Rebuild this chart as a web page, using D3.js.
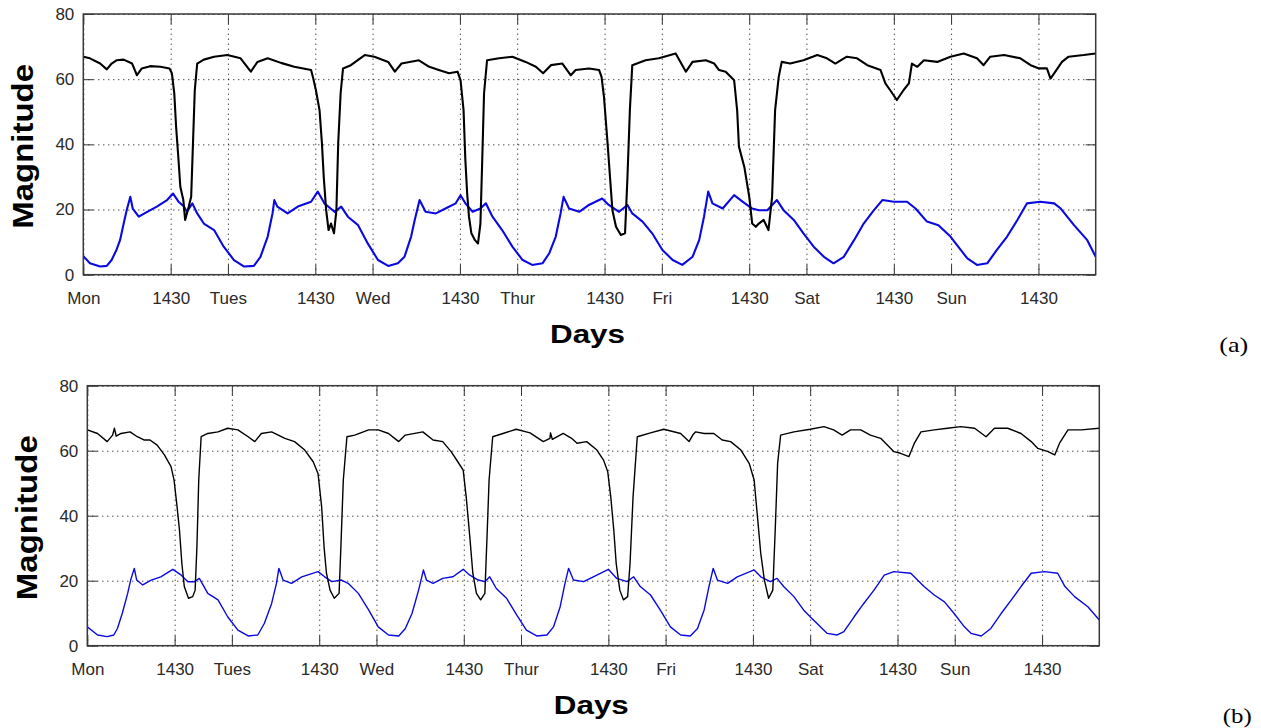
<!DOCTYPE html>
<html>
<head>
<meta charset="utf-8">
<script src="https://cdn.jsdelivr.net/npm/d3@7"></script>
<style>
body { margin: 0; background: #fff; }
svg text { font-family: "Liberation Sans", Arial, sans-serif; }
</style>
</head>
<body>
<script>

const tickHours = [0, 14.5, 24, 38.5, 48, 62.5, 72, 86.5, 96, 110.5, 120, 134.5, 144, 158.5];
const tickLabels = ["Mon", "1430", "Tues", "1430", "Wed", "1430", "Thur", "1430", "Fri", "1430", "Sat", "1430", "Sun", "1430"];
const yTicks = [0, 20, 40, 60, 80];

// [hour, magnitude]
const aBlack = [[0,66.9],[1.1,66.4],[2.8,64.8],[3.9,63],[4.7,64.8],[5.5,65.8],[6.7,66],[8.1,64.8],[8.9,61.2],[9.7,63.3],[11.1,64],[12.8,63.8],[14.3,63.3],[14.7,61.8],[15.1,55.6],[15.4,45.4],[15.8,35.2],[16.1,27],[16.6,22.9],[16.9,16.8],[17.5,20.9],[17.9,23.9],[18.2,40.3],[18.5,56.6],[18.9,64.8],[20,66],[21.7,66.9],[23.9,67.4],[26.1,66.4],[27.8,62.3],[28.9,65.3],[30.6,66.4],[32.8,65],[35,63.8],[37.8,62.8],[38.1,60.7],[38.6,56.6],[39.2,50.5],[39.6,40.3],[39.9,30],[40.3,19.8],[40.7,13.7],[41.1,15.7],[41.6,12.7],[42,19.8],[42.3,40.3],[42.7,55.6],[43.1,63.3],[44.4,64.3],[46.7,67.4],[48.3,66.9],[50.6,65.3],[51.7,62.3],[52.8,64.8],[55.7,65.8],[57.4,63.8],[59,62.8],[60.7,61.8],[62.1,62.3],[62.6,59.7],[63.1,50.5],[63.4,35.2],[63.7,24.9],[64,17.8],[64.4,12.7],[65,10.6],[65.5,9.6],[65.9,15.7],[66.2,35.2],[66.5,55.6],[67,65.8],[69,66.4],[71.2,66.9],[73.4,65.3],[75.1,63.8],[76.3,61.8],[77.6,64.3],[79.5,64.8],[80.9,61.2],[81.7,62.8],[83.9,63.3],[85.6,62.8],[86,60.7],[86.4,54.6],[87,40.3],[87.4,30],[87.8,19.8],[88.4,14.7],[89.2,12.2],[89.9,12.7],[90.3,30],[90.7,50.5],[91.1,64.3],[93.3,65.8],[95.5,66.4],[98.3,67.9],[100,62.3],[101.1,65.3],[103.3,65.8],[104.7,64.8],[105.5,62.8],[106.6,62.3],[108,59.7],[108.5,50.5],[108.8,39.3],[109.7,33],[110.5,24],[111,15.7],[111.6,14.7],[112.1,15.7],[112.9,16.8],[113.7,13.7],[114.3,23.9],[114.8,50.5],[115.4,60.7],[115.9,65.3],[117.3,64.8],[119.5,65.8],[121.8,67.4],[123.4,66.4],[124.8,64.8],[126.7,66.9],[128.4,66.4],[130.1,64.3],[132.3,62.8],[133.1,58.7],[133.9,56.6],[135,53.6],[136.1,56.6],[137,58.7],[137.5,64.8],[138.4,63.8],[139.5,65.8],[141.7,65.3],[143.9,66.9],[146.1,67.9],[148.3,66.4],[149.4,64.3],[150.5,66.9],[152.8,67.4],[155.5,66.4],[157.2,64.3],[158.6,63.3],[159.9,63.3],[160.5,60.2],[161.3,62.3],[162.4,65.3],[163.5,66.9],[166,67.4],[168,67.9]];

const aBlue = [[0,5.7],[1.1,3.5],[2.8,2.5],[3.9,2.7],[4.7,4.5],[5.5,7.6],[6.1,10.6],[6.7,15.7],[7.2,19.8],[7.8,23.9],[8.2,20.3],[9.2,17.8],[10.6,19.3],[12.2,20.9],[13.9,22.9],[14.9,24.9],[15.8,22.4],[16.7,20.9],[17.2,19.3],[18.1,21.9],[18.9,18.8],[20,15.7],[21.7,13.7],[23.3,8.6],[25,4.5],[26.7,2.5],[28.3,2.7],[29.4,5.5],[30.6,11.7],[31.4,18.8],[31.7,22.9],[32.2,20.9],[33.9,18.8],[35.6,20.9],[37.8,22.4],[38.9,25.5],[40,21.9],[41.7,19.3],[42.8,20.9],[43.9,17.8],[45.6,15.2],[47.2,9.6],[48.9,4.5],[50.6,2.7],[52.2,3.5],[53.3,5.5],[54.4,11.7],[55,16.8],[55.8,22.9],[56.8,19.3],[58.5,18.8],[60.1,20.3],[61.8,21.9],[62.6,24.4],[63.4,21.9],[64.6,19.3],[65.9,20.3],[66.8,21.9],[67.9,17.8],[69.5,13.7],[71.2,8.6],[72.9,4.5],[74.5,3],[76.2,3.5],[77.3,6.5],[78.4,11.7],[79.2,18.8],[79.7,23.9],[80.6,20.3],[82.3,19.3],[83.9,21.4],[86.1,23.4],[87.2,21.4],[88.9,19.3],[90.3,21.4],[91.1,18.8],[92.8,16.3],[94.4,12.7],[96.1,7.6],[97.8,4.5],[99.4,3],[101.1,5.5],[102.2,10.6],[103,17.8],[103.7,25.5],[104.4,21.9],[106.1,20.3],[108,24.4],[109.4,22.4],[111,20.3],[112.1,19.8],[113.5,19.8],[115.1,22.9],[116.2,19.8],[117.9,16.8],[119.5,12.7],[121.2,8.6],[122.9,5.5],[124.5,3.5],[126.2,5.5],[127.9,10.6],[129.5,15.7],[131.2,19.8],[132.6,22.9],[134.5,22.4],[136.7,22.4],[138.1,20.3],[140,16.3],[141.9,15.2],[143.9,11.7],[145.6,7.6],[146.7,5],[148.3,3],[150,3.5],[151.6,7.6],[153.3,11.7],[155,16.8],[156.6,21.9],[158.8,22.4],[161.1,21.9],[162.2,20.3],[164.4,15.2],[166.6,10.6],[168,5.5]];

const bBlack = [[0,66.4],[1.7,65.3],[3.3,62.8],[4.2,64.8],[4.5,66.9],[4.8,64.5],[5.6,65.3],[7.1,65.8],[8.3,64.3],[9.4,63.3],[10.4,63.3],[11.6,61.7],[12.8,58.7],[13.9,55.1],[14.4,51],[14.9,42.8],[15.3,35.6],[15.7,25.3],[16.1,18.2],[16.8,14.6],[17.5,15.1],[17.9,17.1],[18.2,30.5],[18.5,51],[18.9,64.3],[20,65.3],[21.7,65.8],[23.3,66.9],[25,66.4],[26.7,64.3],[27.8,62.8],[28.9,65.3],[30.6,65.8],[32.8,63.8],[34.4,62.8],[36.1,60.2],[37.5,56.6],[38.3,53],[38.9,42.8],[39.3,30.5],[39.7,22.3],[40.3,17.1],[41,14.6],[41.8,16.1],[42.1,30.5],[42.5,51],[43.1,64.3],[44.4,64.8],[46.7,66.4],[48.3,66.4],[50,65.3],[51.7,62.8],[52.8,64.8],[55.7,65.8],[57.4,63.3],[59,62.8],[60.4,59.7],[61.5,56.6],[62.4,54],[62.9,45.8],[63.5,33.5],[64,22.3],[64.6,16.1],[65.3,14.1],[66,16.1],[66.4,35.6],[66.7,51],[67.3,64.3],[69,65.3],[71.2,66.6],[73.5,65.5],[75.7,62.8],[76.8,63.8],[76.9,65.5],[77.2,63.5],[79,65.3],[80.4,63.8],[81.3,62.3],[82.9,62.8],[84.6,60.2],[85.7,57.1],[86.4,53.5],[86.9,45.8],[87.4,35.6],[87.8,25.3],[88.4,17.1],[89,14.1],[89.7,15.1],[90.1,25.3],[90.6,45.8],[91.3,64.3],[93.5,65.5],[95.7,66.6],[98.5,65.3],[99.9,62.8],[100.5,64.8],[101,65.8],[102.4,65.3],[104,65.3],[105.4,63.3],[106.8,62.8],[108.5,60.2],[109.9,56],[110.7,51],[111.3,38.7],[111.8,28.4],[112.4,20.2],[113.1,14.6],[113.8,17.1],[114.2,35.6],[114.6,56.1],[115.1,64.8],[117.3,65.8],[120,66.6],[122.3,67.4],[123.9,66.4],[125.3,64.8],[126.7,66.4],[128.4,66.4],[130,64.8],[131.7,63.8],[133.1,61.2],[133.9,59.7],[135,59.2],[136.4,58.2],[137.3,62.3],[138.4,65.8],[140.6,66.4],[142.8,66.9],[145,67.4],[147.3,66.9],[149.2,64.3],[150.6,66.9],[152.8,66.9],[155,65.3],[156.7,62.8],[157.8,60.7],[159.5,59.7],[160.6,58.7],[161.4,62.3],[162.8,66.4],[165,66.4],[168,66.9]];

const bBlue = [[0,5.8],[1.7,3.3],[3.3,2.8],[4.4,3.3],[5,5.3],[5.8,9.9],[6.7,16.1],[7.2,20.2],[7.8,23.8],[8.2,20.2],[9.2,18.7],[10.6,20.2],[12.2,21.2],[14.2,23.5],[15.6,21.7],[16.7,19.7],[17.8,19.7],[18.6,20.7],[20,16.1],[21.7,14.1],[23.3,8.9],[25,4.8],[26.7,3],[28.3,3.3],[29.4,6.9],[30.6,13],[31.4,19.2],[31.8,23.8],[32.5,20.2],[33.9,19.2],[35.6,21.2],[38.3,22.8],[39.4,21.2],[40.6,19.7],[42.2,20.2],[43.3,19.2],[45,16.1],[46.7,11],[48.3,5.8],[50,3.3],[51.7,3],[52.8,5.3],[53.9,9.9],[55,17.1],[55.8,23.3],[56.3,20.2],[57.4,19.2],[59,20.7],[60.7,21.2],[62.4,23.5],[63.5,21.7],[64.9,20.2],[66,19.7],[66.8,21.2],[67.9,17.6],[69.6,14.6],[71.3,9.4],[72.9,4.8],[74.6,3],[76.3,3.3],[77.4,5.8],[78.5,12],[79.3,19.2],[79.9,23.8],[80.7,20.2],[82.4,19.7],[84,21.2],[86.5,23.5],[87.9,20.7],[89.6,19.7],[90.7,21.2],[91.8,18.2],[93.5,15.6],[95.1,11],[96.8,5.8],[98.5,3.3],[100.1,3],[101.3,5.3],[102.4,11],[103.2,18.2],[103.9,23.8],[104.6,20.2],[106.3,19.2],[107.9,21.2],[110.7,23.3],[111.8,21.2],[113.4,19.7],[114.5,20.7],[115.6,18.2],[117.3,15.1],[118.9,11],[120,8.9],[121.1,6.9],[122.8,3.8],[124.5,3.3],[125.6,4.3],[127.3,8.9],[128.9,13],[130.6,17.1],[132.3,21.7],[133.9,22.8],[136.7,22.3],[138.9,18.2],[140.6,15.6],[142.3,13.5],[143.9,9.9],[145.6,5.8],[146.7,3.8],[148.4,3],[150,5.3],[151.7,9.9],[153.4,14.1],[155,18.2],[156.7,22.3],[158.9,22.8],[161.1,22.3],[162.3,18.2],[163.9,15.1],[166.1,12],[168,7.9]];

const svg = d3.select("body").append("svg").attr("width", 1261).attr("height", 728);

function drawPanel(id, left, top, width, height, black, blue, tag, lineWidth)
{
    const g = svg.append("g").attr("transform", "translate(" + left + "," + top + ")");

    const x = d3.scaleLinear().domain([0, 168]).range([0, width]);
    const y = d3.scaleLinear().domain([0, 80]).range([height, 0]);

    // dotted grid
    const grid = g.append("g");
    grid.append("g").attr("transform", "translate(0," + height + ")")
        .call(d3.axisBottom(x).tickValues(tickHours).tickSize(-height).tickFormat(""));
    grid.append("g")
        .call(d3.axisLeft(y).tickValues(yTicks).tickSize(-width).tickFormat(""));
    grid.selectAll(".domain").remove();
    grid.selectAll("line").attr("stroke", "#000").attr("stroke-dasharray", "1,4");

    svg.append("clipPath").attr("id", id).append("rect")
        .attr("x", left).attr("y", top).attr("width", width).attr("height", height);

    const line = d3.line().x(d => x(d[0])).y(d => y(d[1]));

    const plot = g.append("g").attr("clip-path", "url(#" + id + ")")
        .attr("transform", "translate(" + (-left) + "," + (-top) + ")")
        .append("g").attr("transform", "translate(" + left + "," + top + ")");

    plot.append("path").datum(blue).attr("d", line)
        .attr("fill", "none").attr("stroke", "#0a0ae0").attr("stroke-width", lineWidth).attr("stroke-linejoin", "round");
    plot.append("path").datum(black).attr("d", line)
        .attr("fill", "none").attr("stroke", "#000").attr("stroke-width", lineWidth).attr("stroke-linejoin", "round");

    // axes with inward ticks
    const bottom = g.append("g").attr("transform", "translate(0," + height + ")")
        .call(d3.axisBottom(x).tickValues(tickHours).tickSizeInner(-10).tickSizeOuter(0)
            .tickPadding(17).tickFormat((d, i) => tickLabels[i]));
    const top_ = g.append("g")
        .call(d3.axisTop(x).tickValues(tickHours).tickSizeInner(-10).tickSizeOuter(0).tickFormat(""));
    const leftAx = g.append("g")
        .call(d3.axisLeft(y).tickValues(yTicks).tickSizeInner(-10).tickSizeOuter(0).tickPadding(9));
    const rightAx = g.append("g").attr("transform", "translate(" + width + ",0)")
        .call(d3.axisRight(y).tickValues(yTicks).tickSizeInner(-10).tickSizeOuter(0).tickFormat(""));

    [bottom, top_, leftAx, rightAx].forEach(a => {
        a.select(".domain").remove();
        a.selectAll("line").attr("stroke", "#333");
        a.selectAll("text").attr("fill", "#2a2a2a").attr("font-size", 17)
            .attr("font-family", "'Liberation Sans', Arial, sans-serif");
    });

    g.append("rect").attr("width", width).attr("height", height)
        .attr("fill", "none").attr("stroke", "#3a3a3a").attr("stroke-width", 1.5);

    g.append("text")
        .attr("transform", "translate(-50," + (height / 2 + 2) + ") rotate(-90)")
        .attr("text-anchor", "middle").attr("font-weight", "bold").attr("font-size", 29)
        .attr("textLength", 165).attr("lengthAdjust", "spacingAndGlyphs")
        .text("Magnitude");

    g.append("text")
        .attr("x", width / 2 - 2).attr("y", height + 68)
        .attr("text-anchor", "middle").attr("font-weight", "bold").attr("font-size", 26)
        .attr("textLength", 75).attr("lengthAdjust", "spacingAndGlyphs")
        .text("Days");

    g.append("text")
        .attr("x", width + 123.5).attr("y", height + 77)
        .attr("font-size", 22)
        .attr("textLength", 29).attr("lengthAdjust", "spacingAndGlyphs")
        .style("font-family", "'Liberation Serif', 'Times New Roman', serif")
        .text(tag);
}

drawPanel("clipA", 83.3, 14, 1012.4, 260.7, aBlack, aBlue, "(a)", 2.1);
drawPanel("clipB", 87.3, 385.7, 1012, 260, bBlack, bBlue, "(b)", 1.4);

</script>
</body>
</html>
